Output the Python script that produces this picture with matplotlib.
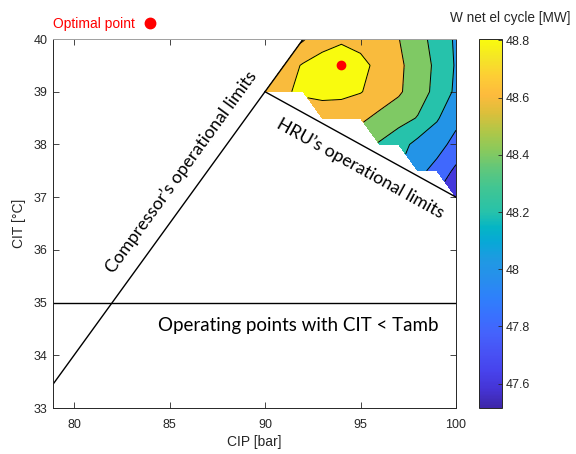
import numpy as np
import matplotlib.pyplot as plt
from matplotlib.colors import LinearSegmentedColormap, Normalize
import matplotlib.cm as cm

# grid of the simulated cases (only the feasible ones have a value)
cip = [90, 91, 92, 93, 94, 95, 96, 97, 98, 99, 100]
cit = [37.0, 37.5, 38.0, 38.5, 39.0, 39.5, 40.0]
nan = np.nan
w_net = [
    [nan, nan, nan, nan, nan, nan, nan, nan, nan, nan, 47.61],
    [nan, nan, nan, nan, nan, nan, nan, nan, 48.06, 47.93, 47.76],
    [nan, nan, nan, nan, nan, nan, 48.38, 48.28, 48.14, 48.08, 47.93],
    [nan, nan, nan, 48.70, 48.68, 48.64, 48.55, 48.47, 48.39, 48.22, 48.06],
    [48.70, 48.78, 48.83, 48.85, 48.85, 48.81, 48.72, 48.63, 48.48, 48.35, 48.16],
    [nan, 48.70, 48.82, 48.86, 48.88, 48.85, 48.75, 48.64, 48.50, 48.36, 48.18],
    [nan, nan, 48.58, 48.74, 48.78, 48.74, 48.68, 48.605, 48.47, 48.33, 48.17],
]
levels = [47.6, 47.8, 48.0, 48.2, 48.4, 48.6, 48.8]
cbar_ticks = [47.6, 47.8, 48.0, 48.2, 48.4, 48.6, 48.8]
cbar_labels = ['47.6', '47.8', '48', '48.2', '48.4', '48.6', '48.8']
w_min, w_max = 47.515, 48.805

# limits
comp_x = [78.9, 92.0]
comp_y = [33.45, 40.0]
hru_x = [90.0, 100.0]
hru_y = [39.0, 37.0]
tamb_x = [78.9, 100.0]
tamb_y = [35.0, 35.0]
opt_x = [94.0]
opt_y = [39.5]

# parula
parula_pts = [
    (0.00, (0.2422, 0.1504, 0.6603)),
    (0.05, (0.2691, 0.2045, 0.8369)),
    (0.10, (0.2788, 0.2638, 0.9283)),
    (0.15, (0.2810, 0.3228, 0.9579)),
    (0.20, (0.2691, 0.3848, 0.9873)),
    (0.25, (0.2226, 0.4426, 0.9960)),
    (0.30, (0.1802, 0.5041, 0.9831)),
    (0.35, (0.1540, 0.5589, 0.9281)),
    (0.40, (0.1226, 0.6012, 0.8876)),
    (0.45, (0.0300, 0.6600, 0.8400)),
    (0.49, (0.0200, 0.7100, 0.7700)),
    (0.53, (0.1500, 0.7600, 0.6700)),
    (0.60, (0.2600, 0.7750, 0.5700)),
    (0.65, (0.3800, 0.7800, 0.4800)),
    (0.70, (0.5400, 0.7900, 0.3600)),
    (0.75, (0.6900, 0.7800, 0.2800)),
    (0.80, (0.8600, 0.7500, 0.2300)),
    (0.85, (0.9930, 0.7320, 0.2390)),
    (0.90, (0.9930, 0.8060, 0.2080)),
    (0.95, (0.9600, 0.9000, 0.1500)),
    (1.00, (0.9763, 0.9831, 0.0538)),
]
parula = LinearSegmentedColormap.from_list('parula', parula_pts)
norm = Normalize(vmin=w_min, vmax=w_max, clip=True)

fig = plt.figure(figsize=(5.76, 4.54), dpi=100)
ax = fig.add_axes([53 / 576, 1 - 408 / 454, 403 / 576, 369 / 454])
cax = fig.add_axes([479 / 576, 1 - 408 / 454, 23 / 576, 369 / 454])

W = np.ma.masked_invalid(np.array(w_net))
fill_levels = [47.4] + levels + [49.0]
band_colors = [parula(norm(l)) for l in fill_levels[:-1]]
ax.contourf(cip, cit, W, levels=fill_levels, colors=band_colors, corner_mask=True)
ax.contour(cip, cit, W, levels=levels, colors='k', linewidths=0.7, corner_mask=True)

ax.plot(comp_x, comp_y, color='k', lw=1.0)
ax.plot(hru_x, hru_y, color='k', lw=1.0)
ax.plot(tamb_x, tamb_y, color='k', lw=1.0)
opt, = ax.plot(opt_x, opt_y, 'o', color='red', ms=6, label='Optimal point')

ann = dict(family='Lato', color='black', ha='center', va='center', rotation_mode='anchor')
ax.text(85.6, 37.48, 'Compressor\u2019s operational limits', rotation=54, fontsize=12.8, **ann)
ax.text(94.97, 37.55, 'HRU\u2019s operational limits', rotation=-29, fontsize=12.8, **ann)
ax.text(91.73, 34.57, 'Operating points with CIT < Tamb', rotation=0, fontsize=13.5, **ann)

ax.set_xlim(78.9, 100)
ax.set_ylim(33, 40)
ax.set_xticks([80, 85, 90, 95, 100])
ax.set_yticks([33, 34, 35, 36, 37, 38, 39, 40])
ax.tick_params(direction='in', length=4, width=0.6, top=True, right=True,
               labelsize=9, colors='#262626', labelcolor='#262626')
ax.tick_params(axis='x', pad=8)
ax.tick_params(axis='y', pad=4)
for s in ax.spines.values():
    s.set_color('#262626')
    s.set_linewidth(0.7)
ax.spines['top'].set_color('#a0a0a0')
for lab in ax.get_xticklabels() + ax.get_yticklabels():
    lab.set_family('Liberation Sans')
ax.set_xlabel('CIP [bar]', fontsize=10, color='#262626', labelpad=3, family='Liberation Sans')
ax.set_ylabel('CIT [\u00b0C]', fontsize=10, color='#262626', labelpad=5, family='Liberation Sans')

leg = ax.legend(handles=[opt], loc='lower left', bbox_to_anchor=(-0.02, 1.0),
                frameon=False, markerfirst=False, labelcolor='red', markerscale=1.25,
                handlelength=0.8, handletextpad=0.7, borderaxespad=0.2,
                prop={'family': 'Liberation Sans', 'size': 10})

sm = cm.ScalarMappable(norm=Normalize(vmin=w_min, vmax=w_max), cmap=parula)
cb = fig.colorbar(sm, cax=cax)
cb.set_ticks(cbar_ticks)
cb.set_ticklabels(cbar_labels)
cb.ax.tick_params(direction='in', length=3, width=0.6, labelsize=9, colors='#262626', pad=3)
for lab in cb.ax.get_yticklabels():
    lab.set_family('Liberation Sans')
cb.outline.set_linewidth(0.7)
cb.outline.set_edgecolor('#262626')
fig.text(510 / 576, 1 - 18 / 454, 'W net el cycle [MW]', ha='center', va='center',
         fontsize=9.8, color='#262626', family='Liberation Sans')

fig.savefig('out.png', dpi=100)
